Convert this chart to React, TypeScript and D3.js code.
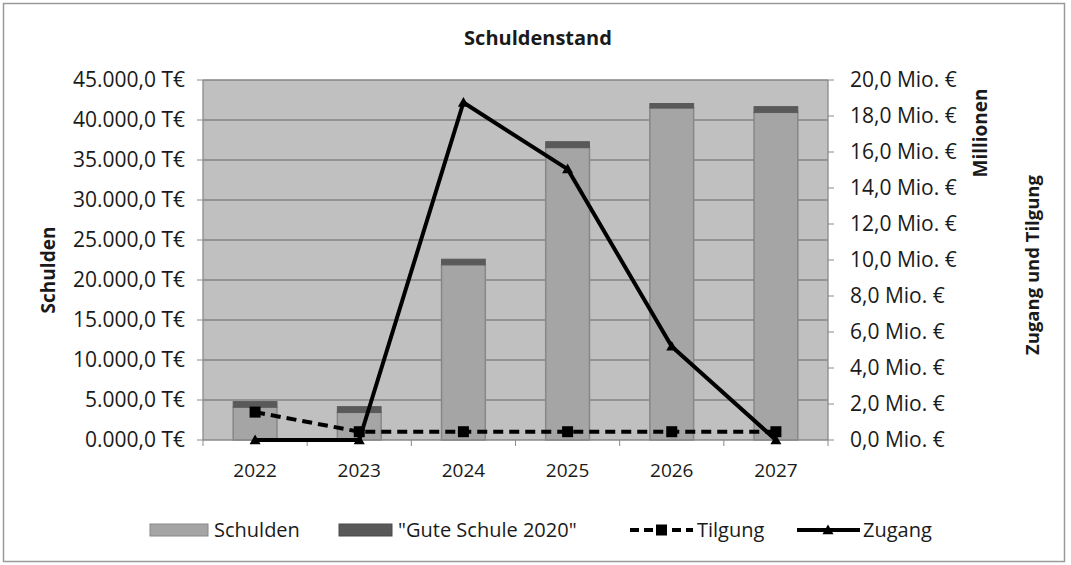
import React from "react";
import * as d3 from "d3";

const years = ["2022", "2023", "2024", "2025", "2026", "2027"];
const schulden = [4100, 3450, 21900, 36550, 41500, 40950];
const guteSchule = [700, 720, 700, 740, 560, 720];
const tilgung = [1.55, 0.46, 0.46, 0.46, 0.46, 0.46];
const zugang = [0, 0, 18.75, 15.05, 5.2, 0];
const leftTicks = [0, 5000, 10000, 15000, 20000, 25000, 30000, 35000, 40000, 45000];
const rightTicks = [0, 2, 4, 6, 8, 10, 12, 14, 16, 18, 20];
const legendItems = ["Schulden", "\"Gute Schule 2020\"", "Tilgung", "Zugang"];

const W = 1071, H = 565;
const plot = { l: 203, r: 828, t: 80, b: 440 };
const FONT = "'Open Sans', 'Noto Sans', sans-serif";
const TXT = "#1a1a1a";

function fmtLeft(v: number) {
  const th = Math.floor(v / 1000);
  const rest = v % 1000;
  return `${th}.${String(rest).padStart(3, "0")},0 T€`;
}
function fmtRight(v: number) {
  return `${v.toFixed(1).replace(".", ",")} Mio. €`;
}

export default function App() {
  const x = d3.scaleBand<string>().domain(years).range([plot.l, plot.r]).paddingInner(0).paddingOuter(0);
  const yL = d3.scaleLinear().domain([0, 45000]).range([plot.b, plot.t]);
  const yR = d3.scaleLinear().domain([0, 20]).range([plot.b, plot.t]);
  const bw = x.bandwidth() * 0.42;
  const cx = (y: string) => (x(y) as number) + x.bandwidth() / 2;

  const line = d3.line<number>().x((_, i) => cx(years[i])).y((d) => yR(d));

  const tri = (px: number, py: number, s = 5.5) =>
    `M${px},${py - s} L${px + s},${py + s * 0.75} L${px - s},${py + s * 0.75} Z`;

  const legY = 530;
  return (
    <svg width={W} height={H} style={{ position: "absolute", left: 0, top: 0, background: "#fff" }} fontFamily={FONT}>
      <rect x={3.5} y={3.5} width={1061} height={558} fill="#fff" stroke="#9a9a9a" strokeWidth={1.5} />
      <text x={538} y={45} textAnchor="middle" fontWeight="bold" fontSize={20} fill={TXT}>Schuldenstand</text>

      {/* plot area */}
      <rect x={plot.l} y={plot.t} width={plot.r - plot.l} height={plot.b - plot.t} fill="#c0c0c0" />
      {leftTicks.slice(1).map((t) => (
        <line key={t} x1={plot.l} x2={plot.r} y1={yL(t)} y2={yL(t)} stroke="#858585" strokeWidth={1.3} />
      ))}

      {/* bars */}
      {years.map((yr, i) => {
        const x0 = cx(yr) - bw / 2;
        const top1 = yL(schulden[i]);
        const top2 = yL(schulden[i] + guteSchule[i]);
        return (
          <g key={yr}>
            <rect x={x0} y={top1} width={bw} height={plot.b - top1} fill="#a5a5a5" stroke="#878787" strokeWidth={1.5} />
            <rect x={x0} y={top2} width={bw} height={top1 - top2} fill="#595959" stroke="#5a5a5a" strokeWidth={1} />
          </g>
        );
      })}

      {/* axes */}
      <line x1={plot.l} x2={plot.l} y1={plot.t} y2={plot.b} stroke="#8a8a8a" strokeWidth={1.3} />
      <line x1={plot.r} x2={plot.r} y1={plot.t} y2={plot.b} stroke="#8a8a8a" strokeWidth={1.3} />
      <line x1={plot.l} x2={plot.r} y1={plot.b} y2={plot.b} stroke="#8a8a8a" strokeWidth={1.3} />
      {leftTicks.map((t) => (
        <g key={t}>
          <line x1={plot.l - 6} x2={plot.l} y1={yL(t)} y2={yL(t)} stroke="#8a8a8a" />
          <text x={185} y={yL(t)} dy="0.35em" textAnchor="end" fontSize={21} fill={TXT}>{fmtLeft(t)}</text>
        </g>
      ))}
      {rightTicks.map((t) => (
        <g key={t}>
          <line x1={plot.r} x2={plot.r + 6} y1={yR(t)} y2={yR(t)} stroke="#8a8a8a" />
          <text x={850} y={yR(t)} dy="0.35em" textAnchor="start" fontSize={21} fill={TXT}>{fmtRight(t)}</text>
        </g>
      ))}
      {years.map((yr, i) => (
        <g key={yr}>
          <line x1={(x(yr) as number) + x.bandwidth()} x2={(x(yr) as number) + x.bandwidth()} y1={plot.b} y2={plot.b + 6} stroke="#8a8a8a" />
          {i === 0 && <line x1={plot.l} x2={plot.l} y1={plot.b} y2={plot.b + 6} stroke="#8a8a8a" />}
          <text x={cx(yr)} y={477} textAnchor="middle" fontSize={19} fill={TXT}>{yr}</text>
        </g>
      ))}

      {/* lines */}
      <path d={line(tilgung) as string} fill="none" stroke="#000" strokeWidth={4} strokeDasharray="10,6" />
      {tilgung.map((v, i) => (
        <rect key={i} x={cx(years[i]) - 5.5} y={yR(v) - 5.5} width={11} height={11} fill="#000" />
      ))}
      <path d={line(zugang) as string} fill="none" stroke="#000" strokeWidth={4} strokeLinejoin="round" />
      {zugang.map((v, i) => (
        <path key={i} d={tri(cx(years[i]), yR(v))} fill="#000" />
      ))}

      {/* axis titles */}
      <text transform="translate(55,270) rotate(-90)" textAnchor="middle" fontWeight="bold" fontSize={19} fill={TXT}>Schulden</text>
      <text transform="translate(987,133) rotate(-90)" textAnchor="middle" fontWeight="bold" fontSize={19} fill={TXT}>Millionen</text>
      <text transform="translate(1039,265) rotate(-90)" textAnchor="middle" fontWeight="bold" fontSize={18.5} fill={TXT}>Zugang und Tilgung</text>

      {/* legend */}
      <rect x={150} y={legY - 6} width={58} height={12} fill="#a5a5a5" stroke="#878787" />
      <text x={214} y={legY} dy="0.35em" fontSize={20} fill={TXT}>{legendItems[0]}</text>
      <rect x={339} y={legY - 6} width={53} height={12} fill="#595959" stroke="#4a4a4a" />
      <text x={398} y={legY} dy="0.35em" fontSize={20} fill={TXT}>{legendItems[1]}</text>
      <line x1={630} x2={693} y1={legY} y2={legY} stroke="#000" strokeWidth={4} strokeDasharray="9,5" />
      <rect x={656} y={legY - 5.5} width={11} height={11} fill="#000" />
      <text x={697} y={legY} dy="0.35em" fontSize={20} fill={TXT}>{legendItems[2]}</text>
      <line x1={797} x2={860} y1={legY} y2={legY} stroke="#000" strokeWidth={4} />
      <path d={tri(828, legY)} fill="#000" />
      <text x={863} y={legY} dy="0.35em" fontSize={20} fill={TXT}>{legendItems[3]}</text>
    </svg>
  );
}
